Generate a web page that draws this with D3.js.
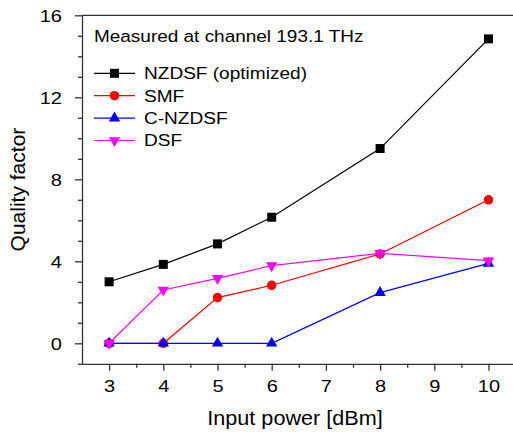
<!DOCTYPE html>
<html>
<head>
<meta charset="utf-8">
<script src="https://cdn.jsdelivr.net/npm/d3@7"></script>
<style>
  body { margin: 0; background: #fff; }
  text { font-family: "Liberation Sans", Arial, sans-serif; fill: #000; }
</style>
</head>
<body>
<div id="chart"></div>
<script>
// input power [dBm]
const power = [3, 4, 5, 6, 8, 10];
// quality factor per fiber type
const nzdsfOpt = [3.0, 3.85, 4.85, 6.15, 9.5, 14.85];
const smf = [0, 0, 2.23, 2.83, 4.36, 7.0];
const cNzdsf = [0, 0, 0, 0, 2.47, 3.9];
const dsf = [0, 2.6, 3.17, 3.79, 4.39, 4.03];

const seriesNames = ["NZDSF (optimized)", "SMF", "C-NZDSF", "DSF"];
const seriesColors = ["#000000", "#ff0000", "#0000ff", "#ff00ff"];
const seriesSymbols = ["square", "circle", "up", "down"];
const seriesValues = [nzdsfOpt, smf, cNzdsf, dsf];

const xTicks = [3, 4, 5, 6, 7, 8, 9, 10];
const yTicks = [0, 4, 8, 12, 16];
const note = "Measured at channel 193.1 THz";

const width = 513, height = 435;
const svg = d3.select("#chart").append("svg")
  .attr("width", width)
  .attr("height", height);

const x = d3.scaleLinear().domain([2.5, 10.5]).range([82, 515.6]);
const y = d3.scaleLinear().domain([-1, 16]).range([363.8, 15.3]);

const axisColor = "#333";

// top frame line
svg.append("line")
  .attr("x1", x(2.5)).attr("x2", x(10.5))
  .attr("y1", y(16)).attr("y2", y(16))
  .attr("stroke", axisColor).attr("stroke-width", 1.3);

// minor ticks
const yMinor = d3.range(-1, 17).filter(v => v % 4 !== 0);
svg.append("g")
  .attr("transform", `translate(${x(2.5)},0)`)
  .call(d3.axisLeft(y).tickValues(yMinor).tickSize(4).tickSizeOuter(0).tickFormat(""))
  .call(g => g.select(".domain").remove())
  .call(g => g.selectAll("line").attr("stroke", axisColor).attr("stroke-width", 1.3));

const xMinor = d3.range(3.5, 10.5, 1);
svg.append("g")
  .attr("transform", `translate(0,${y(-1)})`)
  .call(d3.axisBottom(x).tickValues(xMinor).tickSize(4).tickSizeOuter(0).tickFormat(""))
  .call(g => g.select(".domain").remove())
  .call(g => g.selectAll("line").attr("stroke", axisColor).attr("stroke-width", 1.3));

// major axes
svg.append("g")
  .attr("transform", `translate(${x(2.5)},0)`)
  .call(d3.axisLeft(y).tickValues(yTicks).tickSize(7).tickSizeOuter(0))
  .call(g => g.select(".domain").attr("stroke", axisColor).attr("stroke-width", 1.3))
  .call(g => g.selectAll("line").attr("stroke", axisColor).attr("stroke-width", 1.3))
  .call(g => g.selectAll("text")
    .attr("font-size", 16)
    .attr("font-family", "Liberation Sans, Arial, sans-serif")
    .attr("fill", "#000")
    .attr("x", -20 / 1.25)
    .attr("dy", "0.36em")
    .attr("transform", "scale(1.25,1)"));

svg.append("g")
  .attr("transform", `translate(0,${y(-1)})`)
  .call(d3.axisBottom(x).tickValues(xTicks).tickSize(7).tickSizeOuter(0))
  .call(g => g.select(".domain").attr("stroke", axisColor).attr("stroke-width", 1.3))
  .call(g => g.selectAll("line").attr("stroke", axisColor).attr("stroke-width", 1.3))
  .call(g => g.selectAll("text")
    .attr("font-size", 16)
    .attr("font-family", "Liberation Sans, Arial, sans-serif")
    .attr("fill", "#000")
    .attr("y", 28)
    .attr("dy", 0)
    .attr("transform", "scale(1.25,1)"));

// axis titles
svg.append("text")
  .attr("x", 295).attr("y", 425)
  .attr("text-anchor", "middle")
  .attr("font-size", 21)
  .attr("transform", "translate(295,0) scale(1.03,1) translate(-295,0)")
  .text("Input power [dBm]");

svg.append("text")
  .attr("transform", `translate(25,${(y(-1) + y(16)) / 2}) rotate(-90)`)
  .attr("text-anchor", "middle")
  .attr("font-size", 21)
  .text("Quality factor");

// symbols
function symbolPath(kind) {
  if (kind === "square") return d3.symbol(d3.symbolSquare, 81)();
  if (kind === "circle") return d3.symbol(d3.symbolCircle, 72)();
  return d3.symbol(d3.symbolTriangle, 56)();
}
function symbolTransform(kind, px, py) {
  return kind === "down" ? `translate(${px},${py}) rotate(180)` : `translate(${px},${py})`;
}

const line = d3.line().x(d => x(d[0])).y(d => y(d[1]));

seriesValues.forEach((vals, i) => {
  const pts = power.map((p, j) => [p, vals[j]]);
  const g = svg.append("g");
  g.append("path")
    .datum(pts)
    .attr("d", line)
    .attr("fill", "none")
    .attr("stroke", seriesColors[i])
    .attr("stroke-width", 1.2);
  g.selectAll("path.mark")
    .data(pts)
    .join("path")
    .attr("class", "mark")
    .attr("d", symbolPath(seriesSymbols[i]))
    .attr("transform", d => symbolTransform(seriesSymbols[i], x(d[0]), y(d[1])))
    .attr("fill", seriesColors[i]);
});

// legend
svg.append("text")
  .attr("x", 94).attr("y", 42)
  .attr("font-size", 16.5)
  .attr("transform", "translate(94,0) scale(1.15,1) translate(-94,0)")
  .text(note);

seriesNames.forEach((name, i) => {
  const cy = 73.3 + i * 22.4;
  const lg = svg.append("g");
  lg.append("line")
    .attr("x1", 94).attr("x2", 135)
    .attr("y1", cy).attr("y2", cy)
    .attr("stroke", seriesColors[i]).attr("stroke-width", 1.2);
  lg.append("path")
    .attr("d", symbolPath(seriesSymbols[i]))
    .attr("transform", symbolTransform(seriesSymbols[i], 114.5, cy))
    .attr("fill", seriesColors[i]);
  lg.append("text")
    .attr("x", 144).attr("y", cy + 6)
    .attr("font-size", 16.3)
    .attr("transform", "translate(144,0) scale(1.17,1) translate(-144,0)")
    .text(name);
});
</script>
</body>
</html>
